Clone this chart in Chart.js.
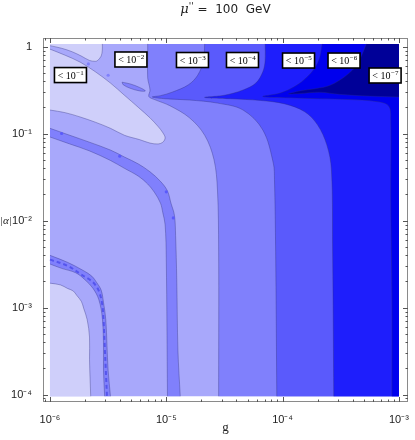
<!DOCTYPE html>
<html>
<head>
<meta charset="utf-8">
<script src="https://cdn.jsdelivr.net/npm/chart.js@4.4.0/dist/chart.umd.min.js"></script>
<style>
  html, body { margin: 0; padding: 0; background: #fff; }
  #wrap { width: 415px; height: 440px; }
</style>
</head>
<body>
<div id="wrap"><canvas id="chart"></canvas></div>
<script>
/**
 * Contour map of |alpha| vs g  (mu'' = 100 GeV)
 */

// plotted range (log10)
const G_MIN = -6, G_MAX = -3, A_MIN = -4.02, A_MAX = 0.03;

// axis ticks
const xDecades = [-6, -5, -4, -3];
const xTickLabels = ["10⁻⁶", "10⁻⁵", "10⁻⁴", "10⁻³"];
const yDecades = [-4, -3, -2, -1, 0];
const yTickLabels = ["10⁻⁴", "10⁻³", "10⁻²", "10⁻¹", "1"];

// shading levels, lightest -> darkest
const LEVELS = [
    "rgb(207,207,250)", "rgb(168,168,251)", "rgb(128,128,252)",
    "rgb(90,90,252)",   "rgb(30,30,252)",   "rgb(0,0,238)", "rgb(0,0,152)"
];
const LINE = "rgba(45,45,120,0.45)";

// ── contour regions ─────────────────────────────────────────────
const bgRect = [[-6,-4.02],[-3,-4.02],[-3,0.03],[-6,0.03]];

const lobeC0 = [[-6,0.03],[-5.55,0.03],[-5.55,-0.04],[-5.56,-0.11],[-5.59,-0.16],[-5.61,-0.17],
    [-5.66,-0.16],[-5.73,-0.11],[-5.81,-0.06],[-5.9,-0.02],[-6,0.01]];

const tongueC0 = [[-6,-0.03],[-5.87,-0.1],[-5.74,-0.18],[-5.61,-0.29],[-5.48,-0.42],[-5.36,-0.56],
    [-5.24,-0.7],[-5.14,-0.82],[-5.07,-0.92],[-5.03,-0.99],[-5.01,-1.05],[-5.03,-1.1],[-5.07,-1.12],
    [-5.14,-1.11],[-5.23,-1.07],[-5.36,-1.02],[-5.48,-0.94],[-5.61,-0.87],[-5.74,-0.81],[-5.87,-0.76],[-6,-0.73]];

const cornerC0 = [[-6,-2.72],[-5.91,-2.74],[-5.85,-2.78],[-5.8,-2.81],[-5.77,-2.86],[-5.73,-2.93],
    [-5.71,-3.01],[-5.68,-3.14],[-5.66,-3.34],[-5.66,-3.6],[-5.65,-4.02],[-6,-4.02]];

const bandUpperC2 = [[-6,-0.94],[-5.83,-1.02],[-5.66,-1.1],[-5.48,-1.19],[-5.36,-1.27],[-5.24,-1.35],
    [-5.14,-1.44],[-5.05,-1.55],[-4.99,-1.66],[-4.96,-1.8],[-4.93,-1.94],[-4.92,-2.17],[-4.91,-2.68],
    [-4.9,-3.49],[-4.88,-4.02],
    [-4.99,-4.02],[-5.0,-2.45],[-5.01,-2.05],[-5.03,-1.91],[-5.05,-1.8],[-5.1,-1.68],[-5.16,-1.58],
    [-5.24,-1.49],[-5.36,-1.4],[-5.48,-1.31],[-5.66,-1.2],[-5.83,-1.12],[-6,-1.04]];

const bandLowerC2 = [[-6,-2.4],[-5.85,-2.48],[-5.72,-2.57],[-5.64,-2.64],[-5.6,-2.71],[-5.56,-2.8],
    [-5.54,-2.94],[-5.52,-3.14],[-5.51,-3.43],[-5.5,-3.72],[-5.48,-4.02],
    [-5.53,-4.02],[-5.54,-3.72],[-5.54,-3.43],[-5.55,-3.12],[-5.58,-2.91],[-5.63,-2.78],[-5.7,-2.68],
    [-5.78,-2.6],[-5.9,-2.55],[-6,-2.5]];

const bandLowerCore = [[-6,-2.45],[-5.85,-2.52],[-5.72,-2.63],[-5.63,-2.71],[-5.58,-2.81],
    [-5.55,-2.97],[-5.54,-3.14],[-5.53,-3.43],[-5.52,-3.72],[-5.51,-4.02]];

const blobC2 = [[-5.38,-0.41],[-5.31,-0.43],[-5.23,-0.47],[-5.18,-0.51],[-5.23,-0.51],[-5.31,-0.48],[-5.37,-0.44]];

const mainC2 = [[-5.16,0.03],[-3,0.03],[-3,-4.02],[-4.55,-4.02],[-4.55,-2.34],[-4.56,-1.65],[-4.59,-1.3],
    [-4.67,-1.02],[-4.8,-0.82],[-4.97,-0.68],[-5.1,-0.61],[-5.15,-0.575],[-5.14,-0.5],[-5.16,-0.36],[-5.16,-0.16]];

const mainC3 = [[-4.67,0.03],[-3,0.03],[-3,-4.02],[-4.05,-4.02],[-4.06,-2.34],[-4.07,-1.53],[-4.08,-1.34],
    [-4.17,-0.96],[-4.34,-0.73],[-4.56,-0.65],[-4.8,-0.615],[-5.01,-0.6],[-5.12,-0.58],[-5.05,-0.565],
    [-4.95,-0.525],[-4.81,-0.44],[-4.73,-0.33],[-4.68,-0.16]];

const mainC4 = [[-4.15,0.03],[-3,0.03],[-3,-4.02],[-3.56,-4.02],[-3.57,-2.34],[-3.58,-1.42],[-3.62,-1.13],
    [-3.7,-0.9],[-3.81,-0.75],[-3.98,-0.66],[-4.19,-0.62],[-4.45,-0.6],[-4.67,-0.585],[-4.5,-0.56],
    [-4.34,-0.5],[-4.23,-0.42],[-4.17,-0.29],[-4.15,-0.16]];

const mainC5 = [[-3.66,0.03],[-3,0.03],[-3,-4.02],[-3.06,-4.02],[-3.06,-2.91],[-3.07,-1.76],[-3.07,-0.85],
    [-3.09,-0.68],[-3.21,-0.63],[-3.42,-0.61],[-3.68,-0.6],[-3.94,-0.59],[-4.17,-0.575],[-4.02,-0.535],
    [-3.89,-0.455],[-3.79,-0.35],[-3.72,-0.24],[-3.68,-0.12]];

const mainC6 = [[-3.28,0.03],[-3,0.03],[-3,-0.58],[-3.25,-0.57],[-3.51,-0.55],[-3.68,-0.525],[-3.85,-0.54],
    [-3.95,-0.545],[-3.85,-0.51],[-3.72,-0.485],[-3.59,-0.445],[-3.45,-0.33],[-3.36,-0.21],[-3.32,-0.1]];

const stripeDots = [[-5.67,-0.2],[-5.5,-0.33]];
const bandDots = [[-5.9,-1.0],[-5.4,-1.26],[-5.0,-1.67],[-4.94,-1.97]];

// contour labels
const labelExps = ["1", "2", "3", "4", "5", "6", "7"];
const labelG = [-5.824, -5.304, -4.775, -4.345, -3.863, -3.472, -3.119];
const labelA = [-0.328, -0.149, -0.155, -0.155, -0.161, -0.161, -0.333];

// ── helpers ─────────────────────────────────────────────────────
const onEdge = (g, a) => g <= G_MIN || g >= G_MAX || a <= A_MIN || a >= A_MAX;

function toPoints(poly, close) {
    const list = close ? poly.concat([poly[0]]) : poly;
    const pts = [];
    list.forEach(([g, a]) => {
        pts.push({ x: 10 ** g, y: 10 ** a });
        if (close && onEdge(g, a)) pts.push({ x: 10 ** g, y: 10 ** a });
    });
    return pts;
}

function edgeSeg(c) {
    const g0 = Math.log10(c.p0.parsed.x), a0 = Math.log10(c.p0.parsed.y);
    const g1 = Math.log10(c.p1.parsed.x), a1 = Math.log10(c.p1.parsed.y);
    const same = (u, v, t) => Math.abs(u - t) < 1e-3 && Math.abs(v - t) < 1e-3;
    return same(g0, g1, G_MIN) || same(g0, g1, G_MAX) || same(a0, a1, A_MIN) || same(a0, a1, A_MAX);
}

// a region = one filled shape + its contour outline (outline skips the plot edges)
function region(poly, color, outline = true) {
    const fillSet = {
        data: toPoints(poly, true),
        backgroundColor: color,
        fill: "shape",
        borderWidth: 0,
        tension: 0.35,
        pointRadius: 0
    };
    if (!outline) return [fillSet];
    const lineSet = {
        data: toPoints(poly, true),
        fill: false,
        borderColor: LINE,
        borderWidth: 0.8,
        tension: 0.35,
        pointRadius: 0,
        segment: { borderColor: c => edgeSeg(c) ? "rgba(0,0,0,0)" : LINE }
    };
    return [fillSet, lineSet];
}

function dots(list, color) {
    return [{
        data: toPoints(list, false), showLine: false, fill: false,
        pointRadius: 1.6, pointBackgroundColor: color, pointBorderWidth: 0
    }];
}

// paint order: first = bottom
const painted = [
    ...region(bgRect, LEVELS[1], false),
    ...region(lobeC0, LEVELS[0]),
    ...region(tongueC0, LEVELS[0]),
    ...region(cornerC0, LEVELS[0]),
    ...region(bandUpperC2, LEVELS[2]),
    ...region(bandLowerC2, LEVELS[2]),
    {
        data: toPoints(bandLowerCore, false), fill: false, tension: 0.35, pointRadius: 0,
        borderColor: "rgba(80,80,235,0.9)", borderWidth: 2, borderDash: [4, 3]
    },
    ...region(blobC2, LEVELS[2]),
    ...dots(stripeDots, LEVELS[2]),
    ...dots(bandDots, LEVELS[3]),
    ...region(mainC2, LEVELS[2]),
    ...region(mainC3, LEVELS[3]),
    ...region(mainC4, LEVELS[4]),
    ...region(mainC5, LEVELS[5]),
    ...region(mainC6, LEVELS[6]),
];
painted.forEach((d, i) => { d.order = painted.length - i; });

function minorTicks(lo, hi) {
    const out = [];
    for (let d = Math.floor(lo) - 1; d <= Math.ceil(hi); d++) {
        for (let m = 1; m <= 9; m++) {
            const v = m * 10 ** d;
            if (Math.log10(v) >= lo && Math.log10(v) <= hi) out.push(v);
        }
    }
    return out;
}

const X_LO = -6.06, X_HI = -2.922, Y_LO = -4.086, Y_HI = 0.098;
const xTicks = minorTicks(X_LO, X_HI);
const yTicks = minorTicks(Y_LO, Y_HI);
const isDecade = v => Math.abs(Math.log10(v) - Math.round(Math.log10(v))) < 1e-6;

function decadeLabel(v, decades, labels) {
    if (!isDecade(v)) return "";
    const i = decades.indexOf(Math.round(Math.log10(v)));
    return i < 0 ? "" : labels[i];
}

// ── frame, ticks, labels ────────────────────────────────────────
const framePlugin = {
    id: "frame",
    afterDatasetsDraw(chart) {
        const { ctx, scales: { x, y } } = chart;
        ctx.save();
        labelExps.forEach((e, i) => {
            const px = x.getPixelForValue(10 ** labelG[i]);
            const py = y.getPixelForValue(10 ** labelA[i]);
            const w = 32, h = 15;
            ctx.fillStyle = "#fff";
            ctx.fillRect(px - w / 2, py - h / 2, w, h);
            ctx.strokeStyle = "#000";
            ctx.lineWidth = 1.6;
            ctx.strokeRect(px - w / 2, py - h / 2, w, h);
            ctx.fillStyle = "#000";
            ctx.textBaseline = "alphabetic";
            ctx.font = '10px "Liberation Serif"';
            const base = "< 10";
            const w1 = ctx.measureText(base).width;
            ctx.font = '7px "Liberation Serif"';
            const sup = "−" + e;
            const w2 = ctx.measureText(sup).width;
            const x0 = px - (w1 + w2) / 2;
            ctx.font = '10px "Liberation Serif"';
            ctx.fillText(base, x0, py + 3.5);
            ctx.font = '7px "Liberation Serif"';
            ctx.fillText(sup, x0 + w1 + 0.5, py - 0.5);
        });
        ctx.restore();
    },
    afterDraw(chart) {
        const { ctx, chartArea: a, scales: { x, y } } = chart;
        ctx.save();
        ctx.strokeStyle = "#8a8a8a";
        ctx.lineWidth = 1;
        ctx.strokeRect(a.left + 0.5, a.top + 0.5, a.right - a.left - 1, a.bottom - a.top - 1);

        ctx.strokeStyle = "#555";
        ctx.beginPath();
        xTicks.forEach(v => {
            const px = Math.round(x.getPixelForValue(v)) + 0.5;
            const len = isDecade(v) ? 5 : 2.5;
            ctx.moveTo(px, a.bottom); ctx.lineTo(px, a.bottom - len);
            ctx.moveTo(px, a.top); ctx.lineTo(px, a.top + len);
        });
        yTicks.forEach(v => {
            const py = Math.round(y.getPixelForValue(v)) + 0.5;
            const len = isDecade(v) ? 5 : 2.5;
            ctx.moveTo(a.left, py); ctx.lineTo(a.left + len, py);
            ctx.moveTo(a.right, py); ctx.lineTo(a.right - len, py);
        });
        ctx.stroke();

        // title
        ctx.fillStyle = "#222";
        ctx.textBaseline = "middle";
        const cx = (a.left + a.right) / 2;
        const mu = "μ", pr = "''", rest = " =  100  GeV";
        ctx.font = 'italic 13px "DejaVu Serif"';
        const wMu = ctx.measureText(mu).width;
        ctx.font = 'italic 9px "DejaVu Sans"';
        const wPr = ctx.measureText(pr).width;
        ctx.font = '12px "DejaVu Sans"';
        const wRest = ctx.measureText(rest).width;
        let tx = cx - (wMu + wPr + wRest) / 2;
        ctx.textAlign = "left";
        ctx.font = 'italic 13px "DejaVu Serif"';
        ctx.fillText(mu, tx, 10);
        tx += wMu;
        ctx.font = 'italic 9px "DejaVu Sans"';
        ctx.fillText(pr, tx, 7);
        tx += wPr;
        ctx.font = '12px "DejaVu Sans"';
        ctx.fillText(rest, tx, 10);

        // axis titles
        ctx.font = '13px "Liberation Serif"';
        ctx.textAlign = "center";
        ctx.fillText("g", cx, 428);
        ctx.textAlign = "left";
        ctx.font = 'italic 11px "Liberation Serif"';
        ctx.fillText("|α|", 0, 221);
        ctx.restore();
    }
};

new Chart(document.getElementById("chart"), {
    type: "line",
    data: { datasets: painted },
    options: {
        responsive: true, maintainAspectRatio: false,
        animation: false, events: [],
        layout: { padding: { left: 0, right: 7, top: 38, bottom: 0 } },
        plugins: { legend: { display: false }, tooltip: { enabled: false }, title: { display: false } },
        scales: {
            x: {
                type: "logarithmic",
                min: 10 ** X_LO, max: 10 ** X_HI,
                afterBuildTicks: s => { s.ticks = xTicks.map(v => ({ value: v })); },
                afterFit: s => { s.height = 38; },
                grid: { display: false },
                border: { display: false },
                ticks: {
                    autoSkip: false, maxRotation: 0, padding: 3, color: "#222",
                    font: { family: "Liberation Sans", size: 11 },
                    callback: v => decadeLabel(v, xDecades, xTickLabels)
                }
            },
            y: {
                type: "logarithmic",
                min: 10 ** Y_LO, max: 10 ** Y_HI,
                afterBuildTicks: s => { s.ticks = yTicks.map(v => ({ value: v })); },
                afterFit: s => { s.width = 43; },
                grid: { display: false },
                border: { display: false },
                ticks: {
                    autoSkip: false, padding: 3, color: "#222",
                    font: { family: "Liberation Sans", size: 11 },
                    callback: v => decadeLabel(v, yDecades, yTickLabels)
                }
            }
        }
    },
    plugins: [framePlugin]
});
</script>
</body>
</html>
